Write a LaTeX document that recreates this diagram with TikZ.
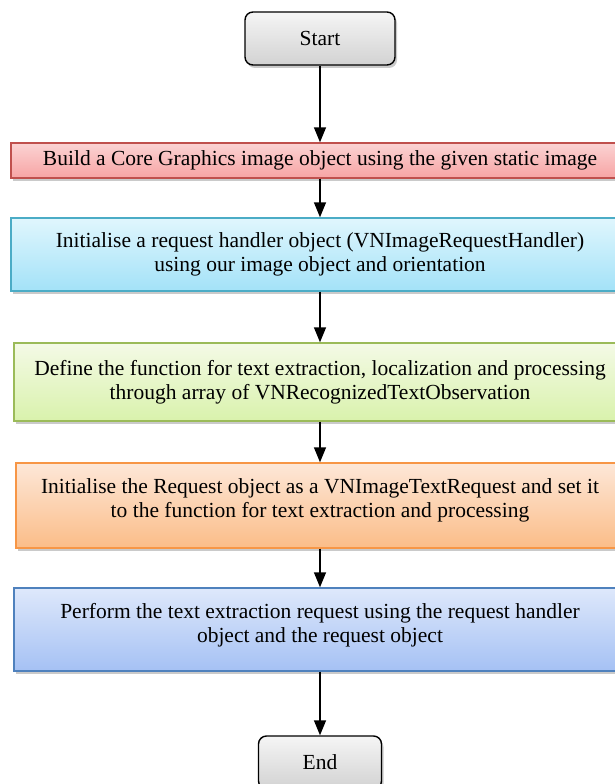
\documentclass[tikz,border=0pt]{standalone}
\usepackage{fontspec}
\setmainfont{Liberation Serif}
\usetikzlibrary{arrows.meta,shadows}
\tikzset{
  box/.style={draw,line width=1.4pt,align=center,inner sep=0pt,
    font=\fontsize{21.5}{24}\selectfont,
    drop shadow={shadow xshift=2pt,shadow yshift=-3pt,opacity=0.35,fill=black!60}},
  termbox/.style={box,draw=black,rounded corners=8pt,top color=gray!8,bottom color=gray!35},
  flow/.style={line width=1.4pt,-{Triangle[width=12pt,length=15pt]}}
}
\definecolor{redline}{HTML}{C0504D}
\definecolor{redtop}{HTML}{FBD3D3}
\definecolor{redbot}{HTML}{F7A4A4}
\definecolor{cyanline}{HTML}{4BACC6}
\definecolor{cyantop}{HTML}{E0F6FD}
\definecolor{cyanbot}{HTML}{A3E2F8}
\definecolor{greenline}{HTML}{9BBB59}
\definecolor{greentop}{HTML}{F4FAE6}
\definecolor{greenbot}{HTML}{D9F2AC}
\definecolor{orangeline}{HTML}{F79646}
\definecolor{orangetop}{HTML}{FDE7D8}
\definecolor{orangebot}{HTML}{FBBD88}
\definecolor{blueline}{HTML}{4F81BD}
\definecolor{bluetop}{HTML}{DEE8FB}
\definecolor{bluebot}{HTML}{A5C1F4}
\begin{document}
\begin{tikzpicture}[x=1pt,y=-1pt]
\useasboundingbox (0,0) rectangle (614,784);
\node[termbox,minimum width=150,minimum height=53] (start) at (320,38.5) {Start};
\node[box,draw=redline,top color=redtop,bottom color=redbot,minimum width=618,minimum height=35] (build) at (320,160.5)
  {Build a Core Graphics image object using the given static image};
\node[box,draw=cyanline,top color=cyantop,bottom color=cyanbot,minimum width=618,minimum height=73] (handler) at (320,254.5)
  {Initialise a request handler object (VNImageRequestHandler)\\using our image object and orientation};
\node[box,draw=greenline,top color=greentop,bottom color=greenbot,minimum width=612,minimum height=78] (define) at (320,382)
  {Define the function for text extraction, localization and processing\\through array of VNRecognizedTextObservation};
\node[box,draw=orangeline,top color=orangetop,bottom color=orangebot,minimum width=608,minimum height=85] (request) at (320,505.5)
  {Initialise the Request object as a VNImageTextRequest and set it\\to the function for text extraction and processing\\[-10pt]};
\node[box,draw=blueline,top color=bluetop,bottom color=bluebot,minimum width=612,minimum height=83] (perform) at (320,629.5)
  {Perform the text extraction request using the request handler\\object and the request object\\[-10pt]};
\node[termbox,minimum width=123,minimum height=53] (end) at (320,762.5) {End};
\draw[flow] (start) -- (build);
\draw[flow] (build) -- (handler);
\draw[flow] (handler) -- (define);
\draw[flow] (define) -- (request);
\draw[flow] (request) -- (perform);
\draw[flow] (perform) -- (end);
\end{tikzpicture}
\end{document}
